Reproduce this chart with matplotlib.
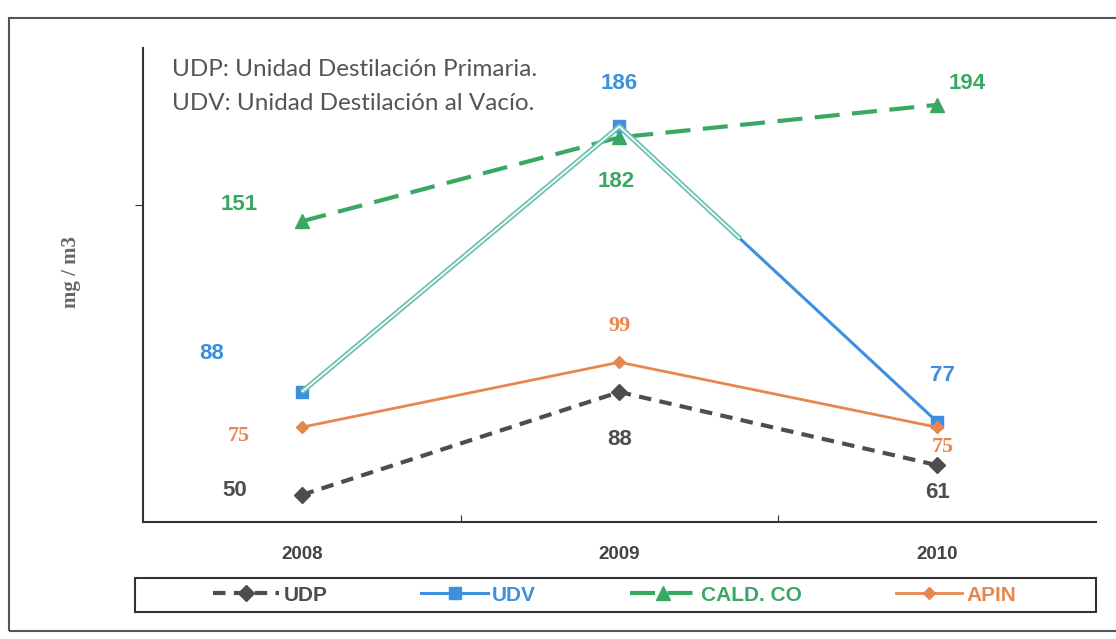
import matplotlib
matplotlib.use("Agg")
import matplotlib.pyplot as plt
from matplotlib.patches import Rectangle

# data
years = ["2008", "2009", "2010"]
udp = [50, 88, 61]
udv = [88, 186, 77]
cald = [151, 182, 194]
apin = [75, 99, 75]

c_udp = "#4d4d4d"
c_udv = "#3d8fe0"
c_cald = "#3aa862"
c_apin = "#e8864f"
c_teal = "#6cc3b4"

fig = plt.figure(figsize=(11.16, 6.39), dpi=100)
ax = fig.add_axes([0.128, 0.183, 0.854, 0.742])
x = list(range(len(years)))

# outer frame of the scanned chart
fig.patches.append(Rectangle((0.008, 0.012), 1.2, 0.96, transform=fig.transFigure,
                             fill=False, edgecolor="#555555", lw=1.5))
# legend box
fig.patches.append(Rectangle((0.121, 0.042), 0.861, 0.053, transform=fig.transFigure,
                             fill=False, edgecolor="#333333", lw=1.5))

ax.plot(x, cald, color=c_cald, lw=3, ls=(0, (6, 3)), marker="^", ms=10, label="CALD. CO", zorder=2)
ax.plot(x, udv, color=c_udv, lw=2.2, marker="s", ms=8, label="UDV", zorder=3)
# the faded (hollow) part of the UDV line in the scan
f = 0.38
part_x = [0, 1, 1 + f]
part_y = [udv[0], udv[1], udv[1] + f * (udv[2] - udv[1])]
ax.plot(part_x, part_y, color=c_teal, lw=3.8, zorder=4, solid_capstyle="butt")
ax.plot(part_x, part_y, color="white", lw=1.2, zorder=4, solid_capstyle="butt")
ax.plot(x, apin, color=c_apin, lw=2, marker="D", ms=6, label="APIN", zorder=3)
ax.plot(x, udp, color=c_udp, lw=3, ls=(0, (3, 2)), marker="D", ms=8, label="UDP", zorder=3)

bold = dict(fontweight="bold", fontsize=16, ha="center", va="center", family="Liberation Sans")
# UDP labels
ax.annotate(str(udp[0]), (0, udp[0]), xytext=(-48, 3), textcoords="offset points", color=c_udp, **bold)
ax.annotate(str(udp[1]), (1, udp[1]), xytext=(0, -34), textcoords="offset points", color=c_udp, **bold)
ax.annotate(str(udp[2]), (2, udp[2]), xytext=(0, -20), textcoords="offset points", color=c_udp, **bold)
# UDV labels
ax.annotate(str(udv[0]), (0, udv[0]), xytext=(-65, 28), textcoords="offset points", color=c_udv, **bold)
ax.annotate(str(udv[1]), (1, udv[1]), xytext=(0, 31), textcoords="offset points", color=c_udv, **bold)
ax.annotate(str(udv[2]), (2, udv[2]), xytext=(4, 33), textcoords="offset points", color=c_udv, **bold)
# CALD labels
ax.annotate(str(cald[0]), (0, cald[0]), xytext=(-45, 12), textcoords="offset points", color=c_cald, **bold)
ax.annotate(str(cald[1]), (1, cald[1]), xytext=(-2, -32), textcoords="offset points", color=c_cald, **bold)
ax.annotate(str(cald[2]), (2, cald[2]), xytext=(22, 15), textcoords="offset points", color=c_cald, **bold)
# APIN labels (serif in the original)
serif = dict(bold, family="Liberation Serif", fontsize=16)
ax.annotate(str(apin[0]), (0, apin[0]), xytext=(-45, -6), textcoords="offset points", color=c_apin, **serif)
ax.annotate(str(apin[1]), (1, apin[1]), xytext=(0, 26), textcoords="offset points", color=c_apin, **serif)
ax.annotate(str(apin[2]), (2, apin[2]), xytext=(4, -14), textcoords="offset points", color=c_apin, **serif)

fig.text(172 / 1116, 1 - 70 / 639, "UDP: Unidad Destilación Primaria.",
         fontsize=17.5, color="#555555", family="Lato", va="center")
fig.text(172 / 1116, 1 - 103 / 639, "UDV: Unidad Destilación al Vacío.",
         fontsize=17.5, color="#555555", family="Lato", va="center")

ax.set_xlim(-0.5, 2.5)
ax.set_ylim(40, 215)
ax.set_yticks([157])
ax.set_yticklabels([])
ax.set_xticks([0.5, 1.5], minor=False)
ax.set_xticklabels([])
ax.set_xticks(x, minor=True)
ax.set_xticklabels(years, minor=True, fontweight="bold", fontsize=13.5, color="#444444",
                   family="Liberation Sans")
ax.tick_params(axis="x", which="minor", length=0, pad=17)
ax.tick_params(axis="x", which="major", length=5, direction="in", color="#333333")
ax.tick_params(axis="y", length=6, direction="out", color="#333333")
for s in ["top", "right"]:
    ax.spines[s].set_visible(False)
for s in ["left", "bottom"]:
    ax.spines[s].set_color("#333333")
    ax.spines[s].set_linewidth(1.5)

fig.text(0.064, 0.575, "mg / m3", rotation=90, fontsize=15, fontweight="bold",
         color="#666666", family="Liberation Serif", ha="center", va="center")

handles, labels = ax.get_legend_handles_labels()
order = [3, 1, 0, 2]
leg = fig.legend([handles[i] for i in order], [labels[i] for i in order],
                 loc="center", bbox_to_anchor=(0.183, 0.042, 0.735, 0.053), mode="expand",
                 ncol=4, frameon=False, labelcolor="linecolor",
                 prop={"family": "Liberation Sans", "weight": "bold", "size": 15},
                 handlelength=3.2, handletextpad=0.2, borderaxespad=0)

fig.savefig("out.png", dpi=100)
